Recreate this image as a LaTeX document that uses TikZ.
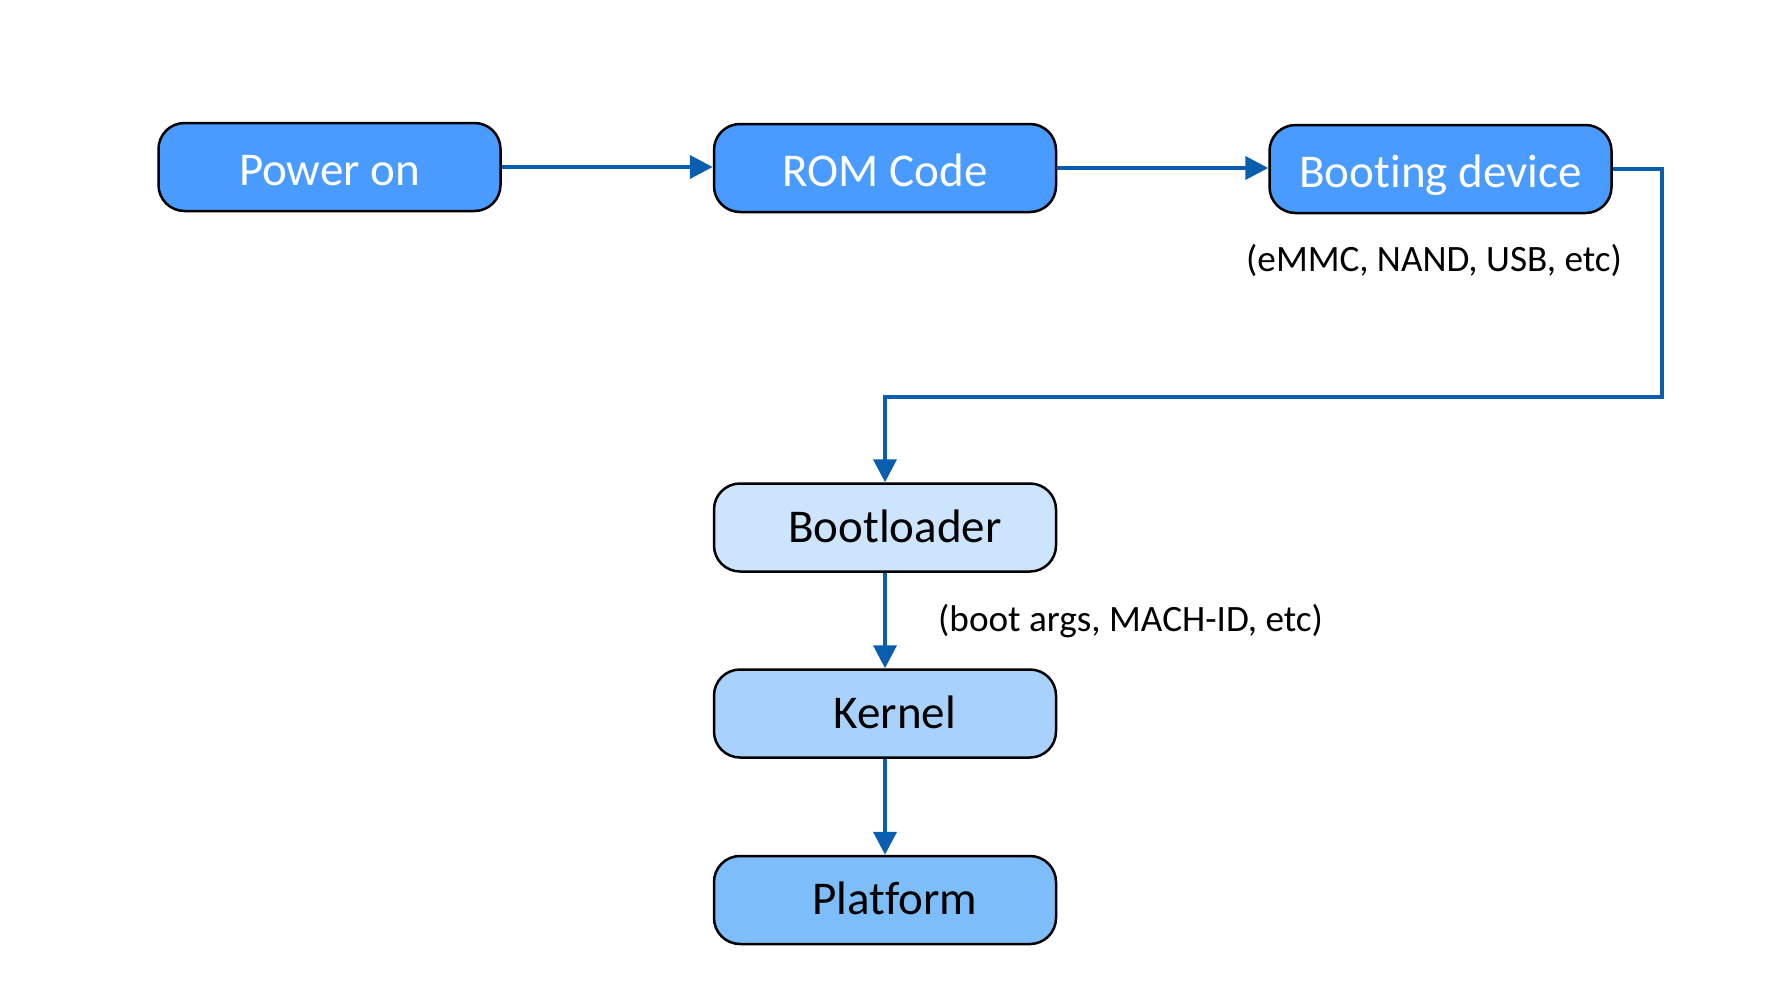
\documentclass[tikz,border=0pt]{standalone}
\usepackage{fontspec}
\setmainfont[Ligatures={NoCommon,NoContextual,NoRequired},Contextuals=NoAlternate]{Carlito}
\usetikzlibrary{arrows.meta}
\definecolor{lineblue}{RGB}{10,94,176}
\definecolor{darkfill}{RGB}{74,155,255}
\definecolor{lightfill}{RGB}{204,229,253}
\definecolor{midfill}{RGB}{168,209,251}
\definecolor{platfill}{RGB}{125,190,250}
\tikzset{
  box/.style={draw=black, line width=2.5pt, rounded corners=26pt, minimum width=342pt, minimum height=88pt, inner sep=0pt, text depth=0pt, text height=29pt, font=\fontsize{47}{50}\selectfont},
  topbox/.style={box, fill=darkfill, text=white, text height=37pt},
  conn/.style={draw=lineblue, line width=4pt, -{Triangle[length=23pt,width=23pt]}},
  note/.style={font=\fontsize{37.2}{40}\selectfont, text=black, inner sep=0pt}
}
\begin{document}
\begin{tikzpicture}[x=1pt,y=-1pt]
\useasboundingbox (0,0) rectangle (1782,991);
\node[topbox] (power) at (329.5,167) {Power on};
\node[topbox] (rom) at (885,168) {ROM Code};
\node[topbox] (boot) at (1440.5,169) {Booting device};
\node[box, fill=lightfill] (bl) at (885,527.5) {\hspace*{20pt}Bootloader};
\node[box, fill=midfill] (kern) at (885,713.5) {\hspace*{20pt}Kernel};
\node[box, fill=platfill] (plat) at (885,900) {\hspace*{20pt}Platform};
\coordinate (c1) at (1662,169);
\coordinate (c2) at (1662,397);
\coordinate (c3) at (885,397);
\draw[conn] (power.east) -- (rom.west |- power.east);
\draw[conn] (rom.east) -- (boot.west |- rom.east);
\draw[conn, rounded corners=0pt] (boot.east) -- (c1) -- (c2) -- (c3) -- (bl.north);
\draw[conn] (bl.south) -- (kern.north);
\draw[conn] (kern.south) -- (plat.north);
\node[note] (l1) at (1434,260) {(eMMC, NAND, USB, etc)};
\node[note, anchor=west] (l2) at (938,621) {(boot args, MACH-ID, etc)};
\end{tikzpicture}
\end{document}
